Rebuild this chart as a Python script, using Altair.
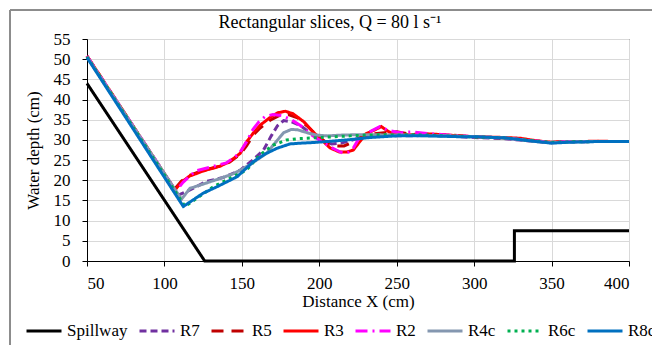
import altair as alt
import pandas as pd

series_names = ["Spillway", "R7", "R5", "R3", "R2", "R4c", "R6c", "R8c"]
series_colors = ["#000000", "#7030A0", "#C00000", "#FF0000", "#FF00FF", "#8497B0", "#00B050", "#0070C0"]
series_dashes = [[1, 0], [7, 4], [12, 8], [1, 0], [12, 5, 2, 5], [1, 0], [3, 4], [1, 0]]

spill_x = [50, 126, 326, 326, 400]
spill_y = [44, 0, 0, 7.5, 7.5]

r7_x = [50, 109, 116.5, 127, 138, 149, 157, 164, 169, 173, 177, 182, 188, 195, 202, 208, 214, 220, 226, 232, 240, 250, 260, 270, 280, 290, 300, 320, 340, 350, 360, 380, 400]
r7_y = [50.6, 16.3, 17.6, 19.7, 20.7, 22.5, 25, 27.5, 31, 33.5, 34.8, 34.5, 33.5, 31.5, 29.8, 29, 29.2, 29.8, 30.5, 31, 31.2, 31, 31, 31.2, 31, 30.8, 30.6, 30.3, 29.6, 29.3, 29.5, 29.6, 29.6]

r5_x = [50, 106.5, 111, 116, 125, 136, 142, 149, 153, 158, 162, 168, 174, 180, 186, 192, 198, 204, 210, 216, 222, 228, 235, 242, 250, 258, 265, 275, 285, 300, 320, 340, 350, 360, 380, 400]
r5_y = [50.8, 17.8, 19.8, 21.2, 22.5, 23.5, 24.5, 26.5, 28.5, 31.5, 33, 34.8, 36, 36.3, 35.5, 33.5, 31.3, 29.5, 28.5, 28.5, 29.5, 31, 31.5, 31.8, 32, 31.5, 31.3, 31.2, 31.2, 30.8, 30.5, 29.7, 29.4, 29.6, 29.6, 29.6]

r3_x = [50, 106.8, 111, 116, 125, 136, 142, 149, 153, 158, 162, 168, 173, 178, 183, 190, 196, 201, 207, 213, 218, 222, 226, 230, 236, 240, 245, 250, 260, 270, 280, 290, 300, 310, 320, 330, 340, 350, 360, 370, 380, 390, 400]
r3_y = [50.8, 17.6, 19.5, 21, 22.3, 23.5, 24.6, 26.7, 29.5, 32, 33.7, 35.5, 36.7, 37.1, 36.5, 34.5, 32, 30.2, 28, 27, 27, 27.5, 29.5, 31.5, 32.5, 33.3, 32, 31.3, 31.3, 31.5, 31.3, 31, 30.8, 30.7, 30.6, 30.4, 29.8, 29.4, 29.6, 29.6, 29.7, 29.6, 29.6]

r2_x = [50, 107.5, 112, 120, 130, 140, 148, 153, 157, 161, 165, 170, 176, 182, 188, 194, 200, 206, 211, 215, 219, 222, 225, 230, 235, 239, 245, 252, 260, 270, 280, 290, 300, 320, 340, 350, 360, 380, 400]
r2_y = [50.8, 17.3, 19.5, 22.3, 23.3, 24.3, 26.5, 29.5, 32.5, 34.5, 35.8, 36.3, 36, 35, 33.5, 31.5, 30, 28.5, 27.5, 26.8, 27, 28, 30, 31.5, 32.5, 33.3, 32.3, 31.8, 32, 31.6, 31.3, 31, 30.8, 30.5, 29.7, 29.4, 29.6, 29.6, 29.6]

r4c_x = [50, 111, 116.5, 123, 134, 145, 155, 166, 172, 177, 182, 186, 192, 198, 205, 215, 225, 235, 245, 255, 270, 285, 300, 320, 340, 350, 360, 380, 400]
r4c_y = [50.6, 15.3, 18, 18.8, 20.2, 21.7, 23.8, 26.7, 29.5, 31.8, 32.6, 32.5, 31.8, 31.2, 31, 31.2, 31.3, 31.3, 31.2, 31.2, 31, 31, 30.8, 30.5, 29.6, 29.3, 29.5, 29.6, 29.6]

r6c_x = [50, 113.3, 120.8, 131.6, 142.3, 153, 161.7, 170.3, 179, 186, 192, 200, 210, 220, 230, 240, 250, 260, 270, 280, 290, 300, 320, 340, 350, 360, 380, 400]
r6c_y = [50.6, 13.5, 15.5, 18.4, 20.5, 22.5, 26.3, 28.7, 30, 30.3, 30.4, 30.6, 30.8, 31, 31.2, 31.3, 31.2, 31.3, 31.2, 31, 30.9, 30.7, 30.5, 29.7, 29.4, 29.5, 29.6, 29.6]

r8c_x = [50, 112.2, 118, 125, 134, 147, 157.4, 165, 172.5, 181, 188, 194, 205, 218, 233, 250, 270, 290, 300, 320, 340, 350, 360, 380, 400]
r8c_y = [50.4, 13.5, 15, 16.8, 18.4, 20.9, 24.6, 26.5, 27.9, 29, 29.2, 29.3, 29.6, 30, 30.6, 31, 31, 30.8, 30.8, 30.5, 29.6, 29.2, 29.4, 29.6, 29.6]

all_x = [spill_x, r7_x, r5_x, r3_x, r2_x, r4c_x, r6c_x, r8c_x]
all_y = [spill_y, r7_y, r5_y, r3_y, r2_y, r4c_y, r6c_y, r8c_y]

rows = []
for name, xs, ys in zip(series_names, all_x, all_y):
    for i, (xv, yv) in enumerate(zip(xs, ys)):
        rows.append({"series": name, "x": xv, "y": yv, "i": i})
df = pd.DataFrame(rows)

FONT = "Liberation Serif"
W, H = 542, 222

legend_kw = dict(title=None, orient="none", direction="horizontal", columns=8,
                 legendX=-62, legendY=273, symbolType="stroke",
                 symbolSize=1225, symbolStrokeWidth=3, columnPadding=5,
                 labelFont=FONT, labelFontSize=17, labelColor="#000000",
                 labelOffset=4)

lines = alt.Chart(df).mark_line(strokeWidth=3).encode(
    x=alt.X("x:Q", scale=alt.Scale(domain=[50, 400], nice=False),
            axis=alt.Axis(values=list(range(50, 401, 50)), title="Distance X (cm)",
                          labelPadding=9, titlePadding=2)),
    y=alt.Y("y:Q", scale=alt.Scale(domain=[0, 55], nice=False),
            axis=alt.Axis(values=list(range(0, 56, 5)), title="Water depth (cm)",
                          labelPadding=12, titlePadding=11)),
    color=alt.Color("series:N", scale=alt.Scale(domain=series_names, range=series_colors),
                    legend=alt.Legend(**legend_kw)),
    strokeDash=alt.StrokeDash("series:N", scale=alt.Scale(domain=series_names, range=series_dashes),
                              legend=alt.Legend(**legend_kw)),
    order=alt.Order("i:Q"),
)

frame = alt.Chart(df).mark_rect(filled=False, stroke="#8c8c8c", strokeWidth=1).encode(
    x=alt.value(-77), x2=alt.value(700), y=alt.value(-29), y2=alt.value(400)
)

chart = alt.layer(frame, lines).properties(
    width=W, height=H,
    title=alt.TitleParams("Rectangular slices, Q = 80 l s⁻¹", font=FONT, fontSize=18,
                          fontWeight="normal", color="#000000", dx=-28, offset=-22,
                          frame="group"),
    autosize=alt.AutoSizeParams(type="none"),
    padding={"left": 87, "top": 39, "right": 23, "bottom": 84},
).configure_view(
    stroke="#262626", strokeWidth=1
).configure_axis(
    labelFont=FONT, labelFontSize=17, labelColor="#000000",
    titleFont=FONT, titleFontSize=17, titleColor="#000000", titleFontWeight="normal",
    gridColor="#d9d9d9", gridWidth=1, domainColor="#000000", tickColor="#000000",
    tickSize=5,
)

chart.save("out.html", embed_options={"renderer": "svg", "actions": False})
